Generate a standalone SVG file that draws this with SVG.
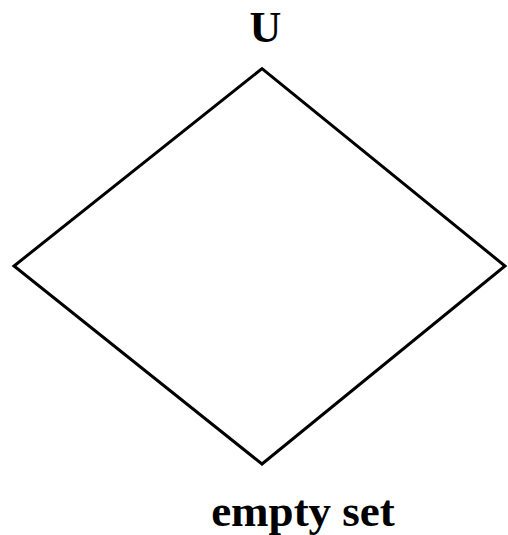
<svg xmlns="http://www.w3.org/2000/svg" width="508" height="535" viewBox="0 0 508 535">
<style>
.lbl{font-family:"Liberation Serif","Times New Roman",serif;font-weight:bold;fill:#000;text-anchor:middle}
.edge{fill:none;stroke:#000;stroke-width:3;stroke-linejoin:miter;stroke-miterlimit:10}
</style>
<rect width="508" height="535" fill="#fff"/>
<g id="connectors">
<path class="edge" d="M262,68.6 L14,266 L262,464 L505,266 Z"/>
</g>
<g id="node-U"><text class="lbl" x="265.5" y="42" font-size="44">U</text></g>
<g id="node-left"></g>
<g id="node-right"></g>
<g id="node-empty"><text class="lbl" x="303" y="526" font-size="45">empty set</text></g>
</svg>
